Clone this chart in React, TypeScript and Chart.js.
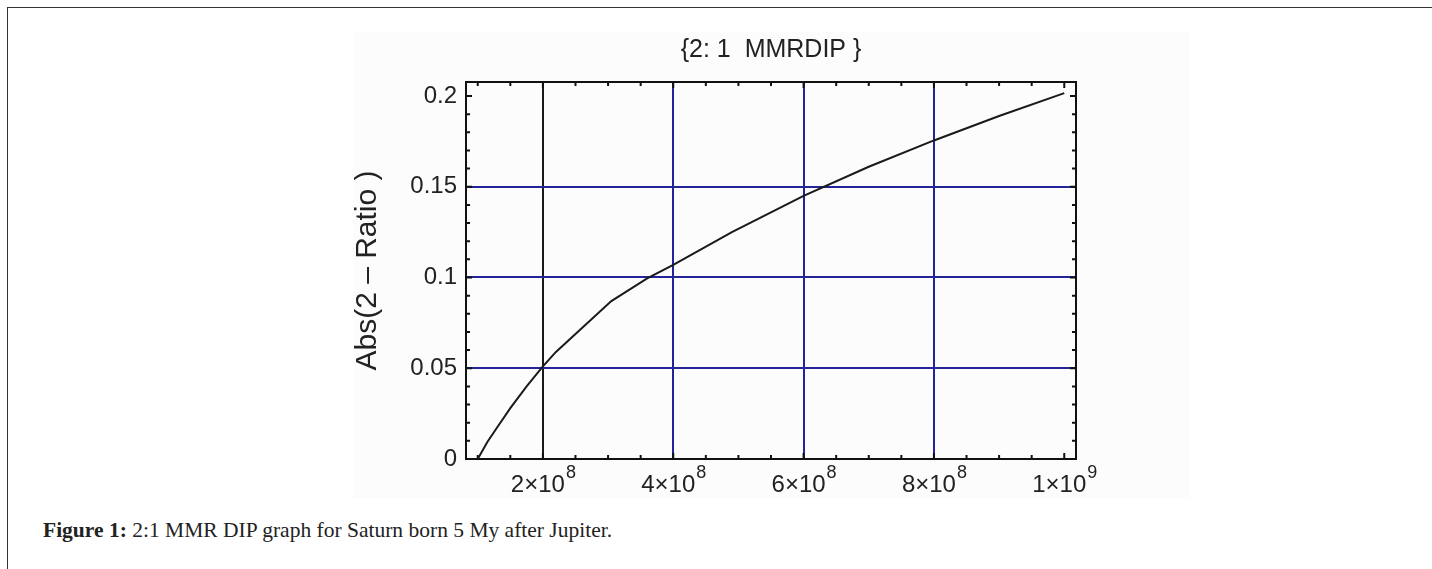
import React, { useEffect, useRef } from "react";
import { Chart, registerables } from "chart.js";
Chart.register(...registerables);

// ---- data ----
const timeValues = [1.0e8, 1.15e8, 1.3e8, 1.5e8, 1.75e8, 2.0e8, 2.2e8, 2.55e8, 3.05e8, 3.6e8, 4.0e8, 4.9e8, 6.0e8, 7.0e8, 8.0e8, 9.0e8, 1.0e9];
const dipValues = [0, 0.0095, 0.0175, 0.028, 0.04, 0.051, 0.059, 0.0705, 0.087, 0.0995, 0.107, 0.125, 0.145, 0.161, 0.1755, 0.189, 0.2016];

const xTicks = [2e8, 4e8, 6e8, 8e8, 1e9];
const xTickMantissa = ["2×10", "4×10", "6×10", "8×10", "1×10"];
const xTickExponent = ["8", "8", "8", "8", "9"];
const yTicks = [0, 0.05, 0.1, 0.15, 0.2];
const yTickLabels = ["0", "0.05", "0.1", "0.15", "0.2"];

const titleText = "{2: 1  MMRDIP }";
const yTitleText = "Abs(2 – Ratio )";
const captionBold = "Figure 1:";
const captionText = " 2:1 MMR DIP graph for Saturn born 5 My after Jupiter.";

const X_MIN = 0.82e8;
const X_MAX = 1.018e9;
const Y_MIN = 0;
const Y_MAX = 0.2077;
const X_MINOR_STEP = 0.5e8;
const Y_MINOR_STEP = 0.01;

const SANS = "'Liberation Sans', Arial, sans-serif";
const BLUE = "#23239a";
const TEXT = "#222";

const framePlugin = {
  id: "framePlugin",
  afterDatasetsDraw(chart: any) {
    const { ctx, chartArea: a, scales } = chart;
    const xs = scales.x;
    const ys = scales.y;
    ctx.save();
    ctx.strokeStyle = "#111";
    ctx.lineWidth = 2;
    ctx.strokeRect(a.left, a.top, a.right - a.left, a.bottom - a.top);
    for (let v = 1e8; v <= X_MAX + 1; v += X_MINOR_STEP) {
      const px = xs.getPixelForValue(v);
      const major = xTicks.some((t) => Math.abs(t - v) < 1);
      const len = major ? 6 : 4;
      ctx.beginPath();
      ctx.moveTo(px, a.bottom);
      ctx.lineTo(px, a.bottom - len);
      ctx.moveTo(px, a.top);
      ctx.lineTo(px, a.top + len);
      ctx.stroke();
    }
    for (let k = 0; k * Y_MINOR_STEP <= Y_MAX + 1e-9; k++) {
      const v = k * Y_MINOR_STEP;
      const py = ys.getPixelForValue(v);
      const major = k % 5 === 0;
      const len = major ? 6 : 4;
      ctx.beginPath();
      ctx.moveTo(a.left, py);
      ctx.lineTo(a.left + len, py);
      ctx.moveTo(a.right, py);
      ctx.lineTo(a.right - len, py);
      ctx.stroke();
    }
    ctx.restore();
  },
  afterDraw(chart: any) {
    const { ctx, scales, chartArea: a } = chart;
    const xs = scales.x;
    const baseFont = `24px ${SANS}`;
    const supFont = `18px ${SANS}`;
    ctx.save();
    ctx.fillStyle = TEXT;
    ctx.textBaseline = "alphabetic";
    ctx.textAlign = "left";
    xTicks.forEach((v, i) => {
      const px = xs.getPixelForValue(v);
      ctx.font = baseFont;
      const wb = ctx.measureText(xTickMantissa[i]).width;
      ctx.font = supFont;
      const ws = ctx.measureText(xTickExponent[i]).width;
      const start = px - (wb + ws) / 2;
      ctx.font = baseFont;
      ctx.fillText(xTickMantissa[i], start, a.bottom + 33);
      ctx.font = supFont;
      ctx.fillText(xTickExponent[i], start + wb + 1, a.bottom + 19);
    });
    // title centred over the plot frame
    ctx.font = `25px ${SANS}`;
    ctx.textAlign = "center";
    ctx.textBaseline = "middle";
    ctx.fillText(titleText, (a.left + a.right) / 2, a.top - 32);
    ctx.restore();
  },
};

function MmrChart() {
  const ref = useRef<HTMLCanvasElement | null>(null);
  useEffect(() => {
    if (!ref.current) return;
    const chart = new Chart(ref.current, {
      type: "line",
      data: {
        datasets: [
          {
            data: timeValues.map((t, i) => ({ x: t, y: dipValues[i] })),
            borderColor: "#1a1a1a",
            borderWidth: 2,
            pointRadius: 0,
            tension: 0,
            fill: false,
          },
        ],
      },
      options: {
        animation: false,
        responsive: false,
        devicePixelRatio: 1,
        layout: { padding: { left: 0, right: 113, top: 50, bottom: 0 } },
        plugins: {
          legend: { display: false },
          tooltip: { enabled: false },
          title: { display: false },
        },
        scales: {
          x: {
            type: "linear",
            min: X_MIN,
            max: X_MAX,
            afterBuildTicks: (s: any) => {
              s.ticks = xTicks.map((v) => ({ value: v }));
            },
            afterFit: (s: any) => {
              s.height = 39;
            },
            ticks: { display: false },
            border: { display: false },
            grid: {
              drawTicks: false,
              lineWidth: 2,
              color: (c: any) => {
                const v = c.tick ? c.tick.value : null;
                if (v === 2e8) return "#1a1a1a";
                if (v === 1e9) return "rgba(0,0,0,0)";
                return BLUE;
              },
            },
          },
          y: {
            type: "linear",
            min: Y_MIN,
            max: Y_MAX,
            afterBuildTicks: (s: any) => {
              s.ticks = yTicks.map((v) => ({ value: v }));
            },
            afterFit: (s: any) => {
              s.width = 113;
            },
            ticks: {
              color: TEXT,
              padding: 9,
              font: { family: SANS, size: 24 },
              callback: (v: any) => {
                const i = yTicks.findIndex((t) => Math.abs(t - Number(v)) < 1e-9);
                return i >= 0 ? yTickLabels[i] : "";
              },
            },
            border: { display: false },
            title: {
              display: true,
              text: yTitleText,
              color: TEXT,
              font: { family: SANS, size: 30, lineHeight: 1 },
              padding: { top: 0, bottom: 0 },
            },
            grid: {
              drawTicks: false,
              lineWidth: 2,
              color: (c: any) => {
                const v = c.tick ? c.tick.value : null;
                if (v === 0.05 || v === 0.1 || v === 0.15) return BLUE;
                return "rgba(0,0,0,0)";
              },
            },
          },
        },
      },
      plugins: [framePlugin],
    } as any);
    return () => chart.destroy();
  }, []);
  return (
    <canvas
      ref={ref}
      width={836}
      height={466}
      style={{ position: "absolute", left: 353, top: 32, width: 836, height: 466, background: "#fcfcfc" }}
    />
  );
}

export default function App() {
  return (
    <div style={{ position: "fixed", left: 0, top: 0, width: 1432, height: 569, overflow: "hidden", background: "#fff" }}>
      <div
        style={{
          position: "absolute",
          left: 7,
          top: 7,
          width: 1500,
          height: 700,
          borderTop: "1px solid #333",
          borderLeft: "1px solid #333",
        }}
      />
      <MmrChart />
      <div
        style={{
          position: "absolute",
          left: 43,
          top: 518,
          fontFamily: "'Liberation Serif', 'Times New Roman', serif",
          fontSize: 21.5,
          lineHeight: "24px",
          color: "#222",
          whiteSpace: "nowrap",
        }}
      >
        <b>{captionBold}</b>
        {captionText}
      </div>
    </div>
  );
}
